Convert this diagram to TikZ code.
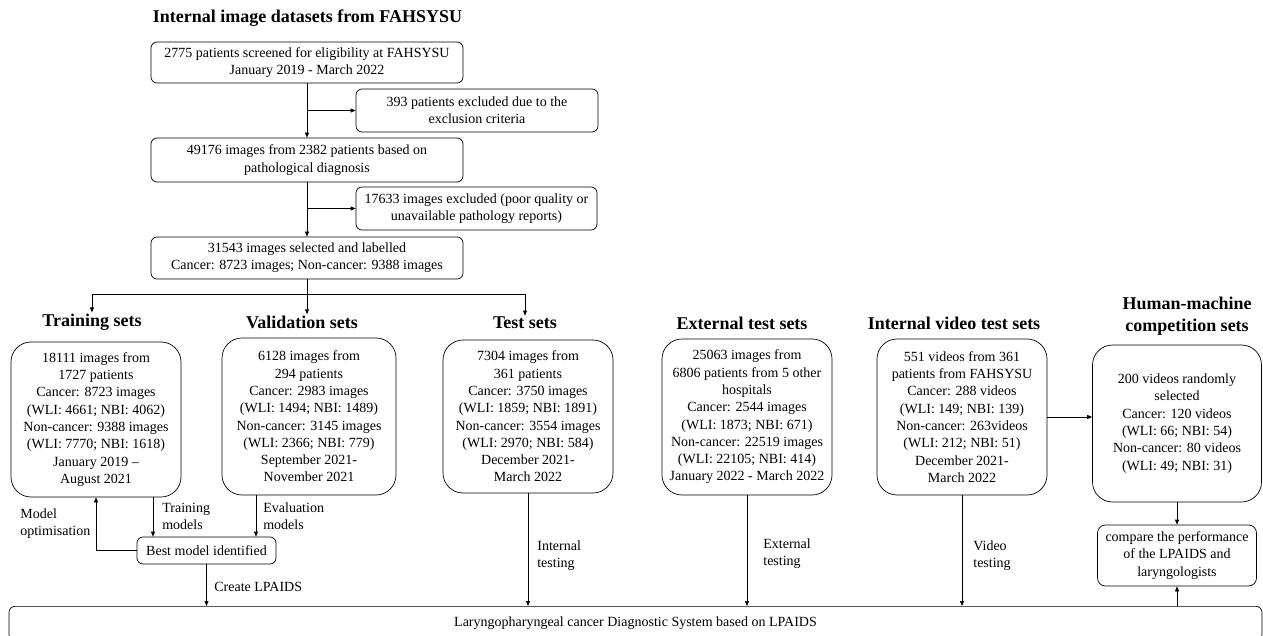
\documentclass[tikz,border=0pt]{standalone}
\usepackage{fontspec}
\setmainfont{Liberation Serif}
\usetikzlibrary{arrows.meta, positioning}
\newcommand{\txtfont}{\fontsize{14}{17.3}\selectfont}
\newcommand{\headfont}{\fontsize{18}{22}\selectfont\bfseries}

\begin{document}
\begin{tikzpicture}[
  x=1pt, y=-1pt, line width=0.7pt,
  box/.style={draw, rounded corners=6pt, align=center, font=\txtfont, inner sep=0pt},
  setbox/.style={draw, rounded corners=20pt, align=center, font=\txtfont, inner sep=0pt, minimum width=170pt},
  head/.style={font=\headfont, align=center, inner sep=1pt},
  lbl/.style={font=\txtfont, align=left, inner sep=0pt, anchor=west},
  >={Triangle[length=5pt,width=4pt]}
]
\clip (0,0) rectangle (1263,636);

% internal image datasets
\node[head] (title) at (307.5,18) {Internal image datasets from FAHSYSU};
\node[box, minimum width=312pt, minimum height=41pt] (screen) at (307,62.5) {2775 patients screened for eligibility at FAHSYSU\\January 2019 - March 2022};
\node[box, minimum width=242pt, minimum height=43pt] (excl1) at (477,110.5) {393 patients excluded due to the\\exclusion criteria};
\node[box, minimum width=312pt, minimum height=44pt] (images) at (307,160) {49176 images from 2382 patients based on\\pathological diagnosis};
\node[box, minimum width=241pt, minimum height=43pt] (excl2) at (476.5,208.5) {17633 images excluded (poor quality or\\unavailable pathology reports)};
\node[box, minimum width=312pt, minimum height=42pt] (labelled) at (307,258) {31543 images selected and labelled\\Cancer: 8723 images; Non-cancer: 9388 images};
\coordinate (split) at (307,294);

% data sets
\node[head] (htrain) at (92,322) {Training sets};
\node[head] (hval)   at (302,322) {Validation sets};
\node[head] (htest)  at (525,323) {Test sets};
\node[head] (hext)   at (742,323) {External test sets};
\node[head] (hvid)   at (954,323) {Internal video test sets};
\node[head] (hhm)    at (1187,316) {Human-machine\\competition sets};

\node[setbox, minimum height=155pt] (train) at (96,419.5) {18111 images from\\1727 patients\\Cancer: 8723 images\\(WLI: 4661; NBI: 4062)\\Non-cancer: 9388 images\\(WLI: 7770; NBI: 1618)\\January 2019 --\\August 2021};
\node[setbox, minimum width=174pt, minimum height=157pt] (val) at (309,416.5) {6128 images from\\294 patients\\Cancer: 2983 images\\(WLI: 1494; NBI: 1489)\\Non-cancer: 3145 images\\(WLI: 2366; NBI: 779)\\September 2021-\\November 2021};
\node[setbox, minimum height=153pt] (test) at (528,416.5) {7304 images from\\361 patients\\Cancer: 3750 images\\(WLI: 1859; NBI: 1891)\\Non-cancer: 3554 images\\(WLI: 2970; NBI: 584)\\December 2021-\\March 2022};
\node[setbox, minimum height=156pt] (ext) at (747,417) {25063 images from\\6806 patients from 5 other\\hospitals\\Cancer: 2544 images\\(WLI: 1873; NBI: 671)\\Non-cancer: 22519 images\\(WLI: 22105; NBI: 414)\\January 2022 - March 2022};
\node[setbox, minimum height=156pt] (vid) at (962,417) {551 videos from 361\\patients from FAHSYSU\\Cancer: 288 videos\\(WLI: 149; NBI: 139)\\Non-cancer: 263videos\\(WLI: 212; NBI: 51)\\December 2021-\\March 2022};
\node[setbox, minimum width=169pt, minimum height=157pt] (hm) at (1177,423.5) {200 videos randomly\\selected\\Cancer: 120 videos\\(WLI: 66; NBI: 54)\\Non-cancer: 80 videos\\(WLI: 49; NBI: 31)};

\node[box, minimum width=139pt, minimum height=27pt] (best) at (206.5,550.5) {Best model identified};
\node[box, rounded corners=8pt, minimum width=159pt, minimum height=61pt] (compare) at (1177,555.5) {compare the performance\\of the LPAIDS and\\laryngologists};
\node[box, anchor=north, minimum width=1253pt, minimum height=34pt] (lpaids) at (635.5,606) {Laryngopharyngeal cancer Diagnostic System based on LPAIDS};

% labels
\node[lbl] (lopt)  at (20,523.5)  {Model\\optimisation};
\node[lbl] (ltrm)  at (162,516.5) {Training\\models};
\node[lbl] (levm)  at (263,516.5) {Evaluation\\models};
\node[lbl] (lcre)  at (214,587)   {Create LPAIDS};
\node[lbl] (lint)  at (537,555.5) {Internal\\testing};
\node[lbl] (lextt) at (763,553.5) {External\\testing};
\node[lbl] (lvidt) at (973,555.5) {Video\\testing};

% connectors
\draw[->] (screen) -- (images);
\draw[->] (screen.south |- excl1.west) -- (excl1.west);
\draw[->] (images) -- (labelled);
\draw[->] (images.south |- excl2.west) -- (excl2.west);
\draw (labelled.south) -- (split);
\draw (htrain |- split) -- (htest |- split);
\draw[->] (htrain |- split) -- (htrain.north);
\draw[->] (split) -- (split |- hval.north);
\draw[->] (htest |- split) -- (htest.north);

\draw[->] ([xshift=57pt]train.south) -- ([xshift=57pt]train.south |- best.north);
\draw[->] ([xshift=-53pt]val.south) -- ([xshift=-53pt]val.south |- best.north);
\draw[->] (best.west) -| (train.south);
\draw[->] (best.south) -- (best.south |- lpaids.north);
\draw[->] (test.south) -- (test.south |- lpaids.north);
\draw[->] (ext.south) -- (ext.south |- lpaids.north);
\draw[->] (vid.south) -- (vid.south |- lpaids.north);
\draw[->] (vid.east) -- (vid.east -| hm.west);
\draw[->] (hm.south) -- (hm.south |- compare.north);
\draw[->] (compare.south |- lpaids.north) -- (compare.south);

\end{tikzpicture}
\end{document}
